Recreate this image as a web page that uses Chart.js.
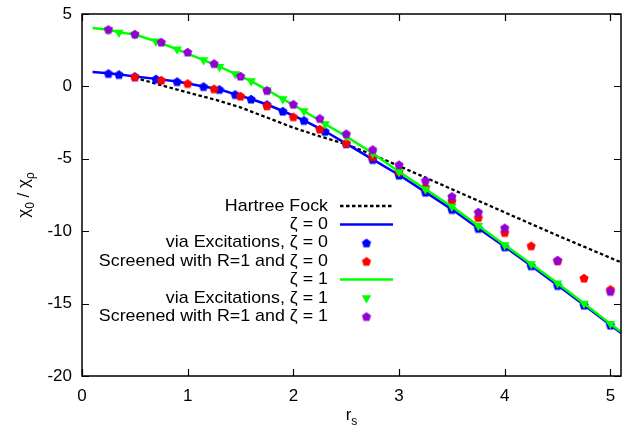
<!DOCTYPE html>
<html lang="en">
<head>
  <meta charset="UTF-8">
  <title>chi0 / chi_p vs r_s</title>
  <script src="https://cdn.jsdelivr.net/npm/chart.js"></script>
  <style>
    body { margin: 0; background: #fff; }
    #wrap { width: 627px; height: 432px; }
  </style>
</head>
<body>
  <div id="wrap"><canvas id="chart" width="627" height="432"></canvas></div>

  <script>
    // values
    const hfRs  = [0.5, 0.75, 1.0, 1.25, 1.5, 1.75, 2.0, 2.25, 2.5, 2.75, 3.0, 3.5, 4.0, 4.5, 5.1];
    const hfVal = [0.6, 0.08, -0.42, -0.9, -1.45, -2.15, -2.85, -3.45, -4.0, -4.72, -5.5, -7.1, -8.7, -10.3, -12.15];

    const lineRs    = [0.1, 0.25, 0.35, 0.5, 0.7, 0.9, 1.15, 1.3, 1.45, 1.6, 1.75, 1.9, 2.1, 2.3, 2.5, 2.75, 3.0, 3.25, 3.5, 3.75, 4.0, 4.25, 4.5, 4.75, 5.0, 5.1];
    const zeta0Line = [1.0, 0.9, 0.83, 0.69, 0.52, 0.34, 0.0, -0.2, -0.55, -0.87, -1.25, -1.7, -2.34, -3.1, -3.95, -5.04, -6.12, -7.3, -8.49, -9.8, -11.07, -12.38, -13.74, -15.1, -16.48, -17.03];
    const zeta1Line = [4.03, 3.92, 3.73, 3.58, 3.12, 2.56, 1.82, 1.36, 0.86, 0.37, -0.24, -0.87, -1.7, -2.6, -3.45, -4.62, -5.9, -7.1, -8.3, -9.62, -10.95, -12.27, -13.6, -15.0, -16.4, -16.95];

    const excRs    = [0.25, 0.35, 0.5, 0.7, 0.9, 1.15, 1.3, 1.45, 1.6, 1.75, 1.9, 2.1, 2.3, 2.5, 2.75, 3.0, 3.25, 3.5, 3.75, 4.0, 4.25, 4.5, 4.75, 5.0];
    const excZeta0 = [0.9, 0.83, 0.69, 0.52, 0.34, 0.0, -0.2, -0.55, -0.87, -1.25, -1.7, -2.34, -3.1, -3.95, -5.04, -6.12, -7.3, -8.49, -9.8, -11.07, -12.38, -13.74, -15.1, -16.48];
    const excZeta1 = [3.92, 3.73, 3.58, 3.12, 2.56, 1.82, 1.36, 0.86, 0.37, -0.24, -0.87, -1.7, -2.6, -3.45, -4.62, -5.9, -7.1, -8.3, -9.62, -10.95, -12.27, -13.6, -15.0, -16.4];

    const scrRs0    = [0.5, 0.75, 1.0, 1.25, 1.5, 1.75, 2.0, 2.25, 2.5, 2.75, 3.0, 3.25, 3.5, 3.75, 4.0, 4.25, 4.5, 4.75, 5.0];
    const scrZeta0  = [0.67, 0.44, 0.21, -0.16, -0.66, -1.33, -2.09, -2.94, -3.9, -4.85, -5.87, -6.95, -7.89, -9.05, -10.08, -11.0, -12.04, -13.23, -14.01];
    const scrRs1    = [0.25, 0.5, 0.75, 1.0, 1.25, 1.5, 1.75, 2.0, 2.25, 2.5, 2.75, 3.0, 3.25, 3.5, 3.75, 4.0, 4.5, 5.0];
    const scrZeta1  = [3.94, 3.62, 3.07, 2.38, 1.59, 0.72, -0.27, -1.22, -2.2, -3.26, -4.35, -5.4, -6.49, -7.59, -8.67, -9.76, -11.99, -14.15];

    const xTicks = [0, 1, 2, 3, 4, 5];
    const labels = [
      'Hartree Fock',
      'ζ = 0',
      'via Excitations, ζ = 0',
      'Screened with R=1 and ζ = 0',
      'ζ = 1',
      'via Excitations, ζ = 1',
      'Screened with R=1 and ζ = 1'
    ];

    const FONT = "'Liberation Sans', Arial, sans-serif";
    Chart.defaults.font.family = FONT;
    Chart.defaults.font.size = 17;
    Chart.defaults.color = '#000';

    const pts = (xs, ys) => xs.map((x, i) => ({ x: x, y: ys[i] }));

    // gnuplot style filled pentagon
    function pentagon(color) {
      const r = 4.8, s = 12;
      const c = document.createElement('canvas');
      c.width = s; c.height = s;
      const g = c.getContext('2d');
      g.fillStyle = color;
      g.beginPath();
      for (let k = 0; k < 5; k++) {
        const a = -Math.PI / 2 + k * 2 * Math.PI / 5;
        const px = s / 2 + r * Math.cos(a), py = s / 2 + 0.5 + r * Math.sin(a);
        if (k) g.lineTo(px, py); else g.moveTo(px, py);
      }
      g.closePath();
      g.fill();
      return c;
    }

    const datasets = [
      { label: labels[0], data: pts(hfRs, hfVal), showLine: true, pointRadius: 0,
        borderColor: '#000', borderWidth: 2.3, borderDash: [3.5, 2.5] },
      { label: labels[1], data: pts(lineRs, zeta0Line), showLine: true, pointRadius: 0,
        borderColor: '#0000ff', borderWidth: 2.5 },
      { label: labels[2], data: pts(excRs, excZeta0), showLine: false,
        pointStyle: pentagon('#0000ff'), pointRadius: 5, backgroundColor: '#0000ff' },
      { label: labels[3], data: pts(scrRs0, scrZeta0), showLine: false,
        pointStyle: pentagon('#ff0000'), pointRadius: 5, backgroundColor: '#ff0000' },
      { label: labels[4], data: pts(lineRs, zeta1Line), showLine: true, pointRadius: 0,
        borderColor: '#00ff00', borderWidth: 2.5 },
      { label: labels[5], data: pts(excRs, excZeta1), showLine: false,
        pointStyle: 'triangle', rotation: 180, pointRadius: 5.5, pointBorderWidth: 0,
        backgroundColor: '#00ff00', borderColor: '#00ff00' },
      { label: labels[6], data: pts(scrRs1, scrZeta1), showLine: false,
        pointStyle: pentagon('#9400d3'), pointRadius: 5, backgroundColor: '#9400d3' }
    ];
    // later series are drawn on top, as in the original
    datasets.forEach((d, i) => { d.order = -i; });

    const decor = {
      id: 'decor',
      afterDraw(chart) {
        const { ctx, chartArea: a, scales: { x, y } } = chart;
        ctx.save();

        // inside ticks on all four sides + frame
        ctx.strokeStyle = '#000';
        ctx.lineWidth = 1.2;
        ctx.beginPath();
        x.ticks.forEach(t => {
          const px = Math.round(x.getPixelForValue(t.value)) + 0.5;
          ctx.moveTo(px, a.bottom); ctx.lineTo(px, a.bottom - 7);
          ctx.moveTo(px, a.top); ctx.lineTo(px, a.top + 7);
        });
        y.ticks.forEach(t => {
          const py = Math.round(y.getPixelForValue(t.value)) + 0.5;
          ctx.moveTo(a.left, py); ctx.lineTo(a.left + 7, py);
          ctx.moveTo(a.right, py); ctx.lineTo(a.right - 7, py);
        });
        ctx.stroke();
        ctx.lineWidth = 1.5;
        ctx.strokeRect(a.left, a.top, a.right - a.left, a.bottom - a.top);

        // legend inside the plot (text slightly stretched like the original)
        const textRight = 328, sx0 = 340, sx1 = 393, y0 = 206, dy = 18.4;
        ctx.font = '17px ' + FONT;
        ctx.textAlign = 'right';
        ctx.textBaseline = 'middle';
        chart.data.datasets.forEach((d, i) => {
          const ry = y0 + i * dy;
          ctx.save();
          ctx.fillStyle = '#000';
          ctx.translate(textRight, ry);
          ctx.scale(1.05, 1);
          ctx.fillText(d.label, 0, 0);
          ctx.restore();
          if (d.showLine) {
            ctx.save();
            ctx.strokeStyle = d.borderColor;
            ctx.lineWidth = d.borderWidth;
            ctx.setLineDash(d.borderDash || []);
            ctx.beginPath();
            ctx.moveTo(sx0, ry); ctx.lineTo(sx1, ry);
            ctx.stroke();
            ctx.restore();
          } else {
            ctx.fillStyle = d.backgroundColor;
            ctx.strokeStyle = d.backgroundColor;
            Chart.helpers.drawPoint(ctx, {
              pointStyle: d.pointStyle, rotation: d.rotation || 0,
              radius: d.pointRadius, borderWidth: 0
            }, (sx0 + sx1) / 2, ry);
          }
        });

        // axis titles with subscripts
        ctx.fillStyle = '#000';
        ctx.textAlign = 'left';
        ctx.textBaseline = 'alphabetic';
        const big = '17px ' + FONT, small = '12px ' + FONT;
        function runs(parts) {
          let w = 0;
          parts.forEach(p => { ctx.font = p.sub ? small : big; p.w = ctx.measureText(p.t).width; w += p.w; });
          return w;
        }
        function drawRuns(parts, cx, base) {
          let px = cx - runs(parts) / 2;
          parts.forEach(p => {
            ctx.font = p.sub ? small : big;
            ctx.fillText(p.t, px, base + (p.sub ? 5 : 0));
            px += p.w;
          });
        }
        drawRuns([{ t: 'r' }, { t: 's', sub: true }], (a.left + a.right) / 2, 420);

        ctx.save();
        ctx.translate(29, (a.top + a.bottom) / 2);
        ctx.rotate(-Math.PI / 2);
        drawRuns([{ t: 'χ' }, { t: '0', sub: true }, { t: ' / χ' }, { t: 'ρ', sub: true }], 0, 0);
        ctx.restore();

        ctx.restore();
      }
    };

    new Chart(document.getElementById('chart'), {
      type: 'scatter',
      data: { datasets: datasets },
      options: {
        responsive: false,
        devicePixelRatio: 1,
        animation: false,
        layout: { padding: { top: 14, right: 4, left: 0, bottom: 0 } },
        plugins: { legend: { display: false }, tooltip: { enabled: false } },
        scales: {
          x: {
            type: 'linear', min: 0, max: 5.1,
            grid: { display: false, drawTicks: false },
            border: { display: false },
            ticks: { stepSize: 1, padding: 10, maxRotation: 0 },
            afterBuildTicks: s => { s.ticks = xTicks.map(v => ({ value: v })); },
            afterFit: s => { s.height = 56; s.paddingLeft = 0; s.paddingRight = 0; }
          },
          y: {
            type: 'linear', min: -20, max: 5,
            grid: { display: false, drawTicks: false },
            border: { display: false },
            ticks: { stepSize: 5, padding: 10 },
            afterFit: s => { s.width = 82; s.paddingTop = 0; s.paddingBottom = 0; }
          }
        }
      },
      plugins: [decor]
    });
  </script>
</body>
</html>
